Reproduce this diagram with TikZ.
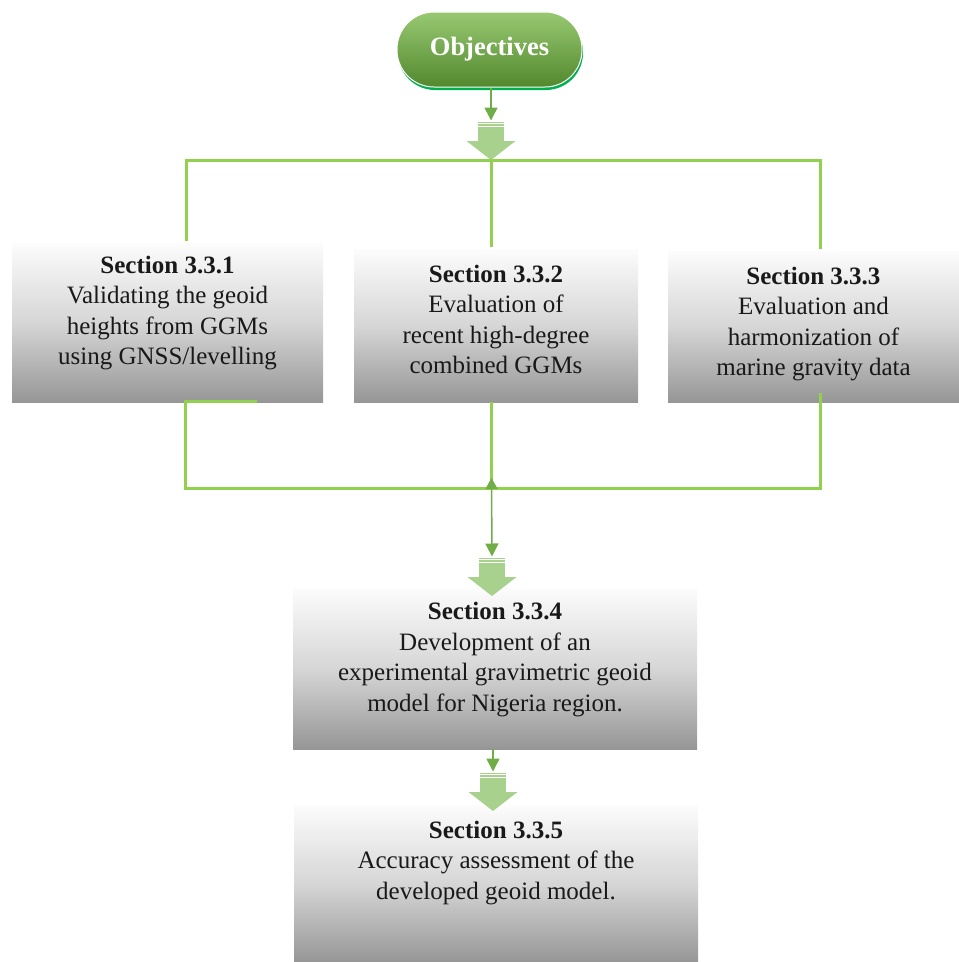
\documentclass[tikz,border=0pt]{standalone}
\usepackage{fontspec}
\setmainfont{Liberation Serif}
\usetikzlibrary{arrows.meta}
\definecolor{linegreen}{RGB}{146,208,80}
\definecolor{darkgreen}{RGB}{112,173,71}
\definecolor{blockgreen}{RGB}{169,209,142}
\definecolor{pilltop}{RGB}{152,201,114}
\definecolor{pillbot}{RGB}{82,136,46}
\definecolor{shadowgreen}{RGB}{0,176,80}
\definecolor{boxtop}{RGB}{252,252,252}
\definecolor{boxmid}{RGB}{214,214,214}
\definecolor{boxbot}{RGB}{150,150,150}
\definecolor{txt}{RGB}{25,25,25}
\begin{document}
\begin{tikzpicture}[x=1pt,y=-1pt,
  box/.style={rectangle, inner sep=0pt, draw=none, top color=boxtop, bottom color=boxbot, middle color=boxmid},
  boxtext/.style={align=center, inner sep=0pt, text=txt, font=\fontsize{25}{30.5}\selectfont},
  pill/.style={rectangle, rounded corners=37pt, minimum width=185pt, minimum height=75pt, inner sep=0pt,
    top color=pilltop, bottom color=pillbot, draw=white, line width=1pt, text=white,
    font=\fontsize{26.5}{30}\selectfont\bfseries},
  conn/.style={draw=linegreen, line width=3pt},
  thinarrow/.style={draw=darkgreen, line width=1.5pt, -{Triangle[length=13pt,width=13pt]}},
  blockarrow/.pic={
    \fill[blockgreen] (-13,0) rectangle (13,19.5);
    \fill[blockgreen] (-24.5,19) -- (24.5,19) -- (0,38) -- cycle;
    \draw[white, line width=1pt] (-13,1.6) -- (13,1.6) (-13,4.4) -- (13,4.4);
    \coordinate (-top) at (0,0);
    \coordinate (-tip) at (0,38);
  }]
\useasboundingbox (0,0) rectangle (959,962);

% objectives pill with shadow
\fill[shadowgreen, rounded corners=37pt] (398,15) rectangle (583,90);
\node[pill] (obj) at (489.5,49.5) {Objectives};

% boxes
\node[box, minimum width=311pt, minimum height=159pt] (box1) at (167.5,322.5) {};
\node[box, minimum width=284pt, minimum height=153pt] (box2) at (496,325.5) {};
\node[box, minimum width=291pt, minimum height=151pt] (box3) at (813.5,326.5) {};
\node[box, minimum width=404pt, minimum height=161pt] (box4) at (495,668.5) {};
\node[box, minimum width=404pt, minimum height=157pt] (box5) at (496,883.5) {};

% texts
\node[boxtext] (t1) at (167.5,313) {\textbf{Section 3.3.1}\\Validating the geoid\\heights from GGMs\\using GNSS/levelling};
\node[boxtext] (t2) at (496,319.5) {\textbf{Section 3.3.2}\\Evaluation of\\recent high-degree\\combined GGMs};
\node[boxtext] (t3) at (813.5,324) {\textbf{Section 3.3.3}\\Evaluation and\\harmonization of\\marine gravity data};
\node[boxtext] (t4) at (495,659.5) {\textbf{Section 3.3.4}\\Development of an\\experimental gravimetric geoid\\model for Nigeria region.};
\node[boxtext] (t5) at (496,863) {\textbf{Section 3.3.5}\\Accuracy assessment of the\\developed geoid model.};

% block arrows
\pic (ba1) at (491,122) {blockarrow};
\pic (ba2) at (492,558) {blockarrow};
\pic (ba3) at (493,773) {blockarrow};

% top connectors
\draw[thinarrow, shorten >=1.5pt] (obj.south -| ba1-top) -- (ba1-top);
\coordinate (L) at (186,160);
\coordinate (R) at (820,160);
\draw[conn, shorten <=2pt, shorten >=2pt] (box1.north -| L) -- (L) -- (R) -- (box3.north -| R);
\draw[conn, shorten >=2pt] (ba1-tip) -- (box2.north -| ba1-tip);

% bottom connectors
\coordinate (E1) at (257,401);
\coordinate (E3) at (820,393);
\coordinate (BL) at (185,488);
\coordinate (BR) at (820,488);
\coordinate (J) at (491.5,488);
\coordinate (Jt) at (491.5,478);
\draw[conn] (E1) -- (E1 -| BL) -- (BL) -- (BR) -- (E3);
\draw[conn] (box2.south -| J) -- (J);
\draw[draw=darkgreen, line width=1.5pt, {Triangle[length=11pt,width=12pt]}-{Triangle[length=13pt,width=13pt]}, shorten >=1.5pt] (Jt) -- (ba2-top);
\draw[thinarrow, shorten >=1.5pt] (box4.south -| ba3-top) -- (ba3-top);
\end{tikzpicture}
\end{document}
